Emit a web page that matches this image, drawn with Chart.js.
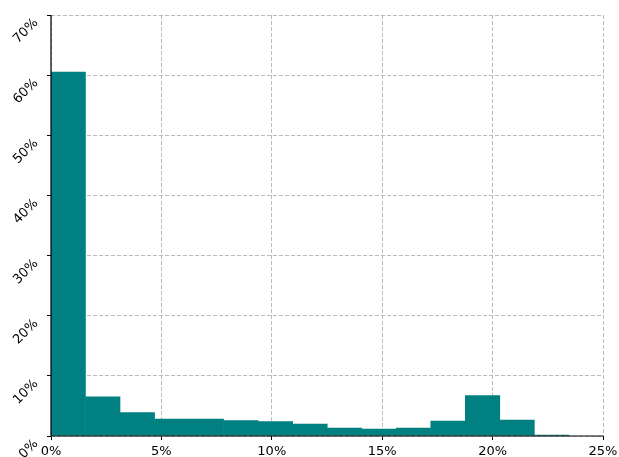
<!DOCTYPE html>
<html>
<head>
<meta charset="utf-8">
<script src="https://cdn.jsdelivr.net/npm/chart.js@4"></script>
<style>
  html, body { margin: 0; padding: 0; background: #fff; }
  #wrap { width: 619px; height: 457px; }
</style>
</head>
<body>
<div id="wrap"><canvas id="histChart" width="619" height="457"></canvas></div>
<script>
// Histogram bins (percent) and share of observations in each bin (percent)
const binEdges = [0, 1.56, 3.13, 4.69, 6.25, 7.82, 9.38, 10.95, 12.51, 14.07, 15.64, 17.20, 18.76, 20.33, 21.89, 23.45];
const binShares = [60.5, 6.5, 3.9, 2.8, 2.8, 2.55, 2.4, 2.0, 1.33, 1.16, 1.33, 2.5, 6.7, 2.66, 0.17];
const xTicks = [0, 5, 10, 15, 20, 25];
const yTicks = [0, 10, 20, 30, 40, 50, 60, 70];

const tickFont = { family: 'DejaVu Sans', size: 13 };
const gridColor = 'rgba(176,176,176,0.85)';

// solid left/bottom spines plus rotated y labels hanging below-left of each tick
const axesExtras = {
    id: 'axesExtras',
    afterDraw(chart) {
        const ctx = chart.ctx;
        const area = chart.chartArea;
        const y = chart.scales.y;
        ctx.save();
        ctx.strokeStyle = '#000';
        ctx.lineWidth = 1.2;
        ctx.beginPath();
        ctx.moveTo(area.left, area.top);
        ctx.lineTo(area.left, area.bottom);
        ctx.lineTo(area.right, area.bottom);
        ctx.stroke();

        ctx.fillStyle = '#000';
        ctx.font = '13px "DejaVu Sans"';
        ctx.textAlign = 'right';
        ctx.textBaseline = 'middle';
        yTicks.forEach(v => {
            const py = y.getPixelForValue(v);
            ctx.save();
            ctx.translate(y.right - 15, py + 6);
            ctx.rotate(-Math.PI / 4);
            ctx.fillText(v + '%', 0, 0);
            ctx.restore();
        });
        ctx.restore();
    }
};

document.addEventListener('DOMContentLoaded', () => {
    const points = binShares.map((v, i) => ({
        x: (binEdges[i] + binEdges[i + 1]) / 2,
        y: v
    }));

    new Chart(document.getElementById('histChart'), {
        type: 'bar',
        data: {
            datasets: [{
                data: points,
                backgroundColor: '#008080',
                borderWidth: 0,
                barPercentage: 1.0,
                categoryPercentage: 1.0
            }]
        },
        options: {
            responsive: false,
            animation: false,
            layout: { padding: { top: 15, right: 16, left: 0, bottom: 0 } },
            plugins: { legend: { display: false }, tooltip: { enabled: false } },
            scales: {
                x: {
                    type: 'linear',
                    min: 0,
                    max: 25,
                    offset: false,
                    z: 1,
                    afterBuildTicks: s => { s.ticks = xTicks.map(v => ({ value: v })); },
                    afterFit: s => { s.height = 21; s.paddingLeft = 0; s.paddingRight = 0; },
                    ticks: {
                        color: '#000',
                        font: tickFont,
                        padding: 4,
                        maxRotation: 0,
                        callback: v => v + '%'
                    },
                    grid: {
                        offset: false,
                        color: gridColor,
                        tickLength: 4,
                        tickColor: '#000',
                        tickBorderDash: [1, 0]
                    },
                    border: { display: false, dash: [4, 2] }
                },
                y: {
                    min: 0,
                    max: 70,
                    z: 1,
                    afterBuildTicks: s => { s.ticks = yTicks.map(v => ({ value: v })); },
                    afterFit: s => { s.width = 51; s.paddingTop = 0; s.paddingBottom = 0; },
                    ticks: { display: false },
                    grid: {
                        color: gridColor,
                        tickLength: 4,
                        tickColor: '#000',
                        tickBorderDash: [1, 0]
                    },
                    border: { display: false, dash: [4, 2] }
                }
            }
        },
        plugins: [axesExtras]
    });
});
</script>
</body>
</html>
